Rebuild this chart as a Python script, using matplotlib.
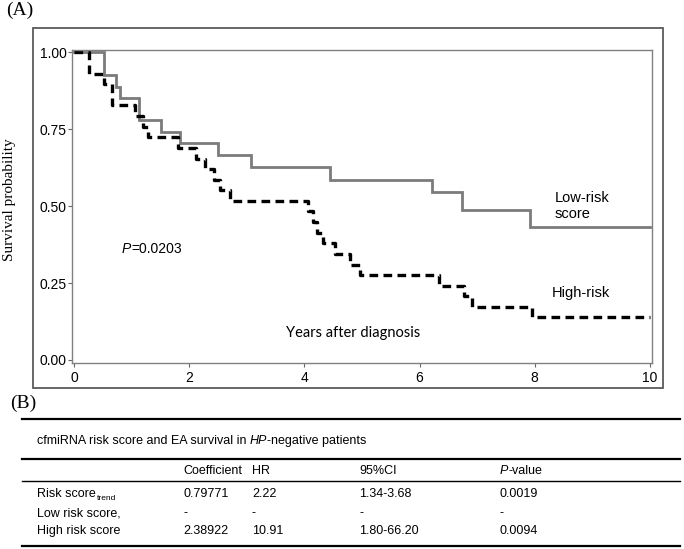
import matplotlib
matplotlib.use("Agg")
import matplotlib.pyplot as plt
from matplotlib.patches import Rectangle
from matplotlib.lines import Line2D

# ---------------- data ----------------
low_t = [0, 0.52, 0.72, 0.79, 1.13, 1.50, 1.84, 2.50, 3.07, 4.44, 6.21, 6.73, 7.92, 10.0]
low_s = [1.0, 0.926, 0.889, 0.852, 0.780, 0.742, 0.705, 0.667, 0.629, 0.586, 0.545, 0.488, 0.432, 0.432]

high_t = [0, 0.26, 0.52, 0.65, 1.05, 1.20, 1.28, 1.81, 2.12, 2.27, 2.42, 2.53, 2.71,
          4.07, 4.15, 4.22, 4.33, 4.53, 4.79, 4.97, 6.33, 6.77, 6.92, 7.95, 10.0]
high_s = [1.0, 0.931, 0.897, 0.828, 0.793, 0.759, 0.724, 0.690, 0.655, 0.621, 0.586, 0.552, 0.517,
          0.483, 0.448, 0.414, 0.379, 0.345, 0.310, 0.276, 0.241, 0.207, 0.172, 0.138, 0.138]

x_ticks = [0, 2, 4, 6, 8, 10]
y_ticks = [0.0, 0.25, 0.50, 0.75, 1.00]
y_tick_labels = ["0.00", "0.25", "0.50", "0.75", "1.00"]

p_text = "=0.0203"
table_title_pre = "cfmiRNA risk score and EA survival in "
table_title_it = "HP"
table_title_post = "-negative patients"
col_headers = ["Coefficient", "HR", "95%CI", "-value"]
row_labels = ["Risk score", "Low risk score,", "High risk score"]
coef = ["0.79771", "-", "2.38922"]
hr = ["2.22", "-", "10.91"]
ci = ["1.34-3.68", "-", "1.80-66.20"]
pval = ["0.0019", "-", "0.0094"]

SANS = ["Liberation Sans", "DejaVu Sans"]
NARROW = ["Liberation Sans Narrow", "Liberation Sans", "DejaVu Sans"]
SERIF = ["Liberation Serif", "DejaVu Serif"]
plt.rcParams["font.family"] = SANS

W, H = 684, 549
fig = plt.figure(figsize=(W / 100, H / 100), dpi=100)

# overlay in pixel coordinates for layout decorations
ov = fig.add_axes([0, 0, 1, 1])
ov.set_xlim(0, W)
ov.set_ylim(H, 0)
ov.axis("off")

# ---------------- panel A ----------------
ov.add_patch(Rectangle((33, 28), 630, 360, fill=False, edgecolor="#5a5a5a", lw=1.3))
ov.text(6, 10, "(A)", family=SERIF, fontsize=14, ha="left", va="center")
ov.text(10, 200, "Survival probability", family=SERIF, fontsize=11, rotation=90,
        ha="center", va="center")

ax = fig.add_axes([72 / W, 1 - 363 / H, 580 / W, 313 / H])
ax.step(low_t, low_s, where="post", color="#7b7b7b", lw=2.0, solid_joinstyle="miter")
ax.step(high_t, high_s, where="post", color="black", lw=2.4, linestyle=(0, (2.6, 1.6)))
ax.set_xlim(-0.04, 10.04)
ax.set_ylim(-0.01, 1.008)
ax.set_xticks(x_ticks)
ax.set_xticklabels([str(v) for v in x_ticks])
ax.set_yticks(y_ticks)
ax.set_yticklabels(y_tick_labels)
for sp in ax.spines.values():
    sp.set_color("#808080")
    sp.set_linewidth(1.0)
ax.tick_params(axis="both", length=3, width=0.8, color="#666666", labelsize=10)
ax.tick_params(axis="x", pad=3)
ax.tick_params(axis="y", pad=1)

t1 = ax.text(0.83, 0.36, "P", style="italic", fontsize=10, ha="left", va="center")
ax.annotate(p_text, xy=(1, 0), xycoords=t1, ha="left", va="bottom", fontsize=10)
ax.text(4.85, 0.088, "Years after diagnosis", family=["Lato", "DejaVu Sans"], fontsize=10.5,
        ha="center", va="center")
ax.text(8.35, 0.50, "Low-risk\nscore", fontsize=10.5, ha="left", va="center", linespacing=1.2)
ax.text(8.30, 0.218, "High-risk", fontsize=10.5, ha="left", va="center")

# ---------------- panel B ----------------
ov.text(10, 403, "(B)", family=SERIF, fontsize=14, ha="left", va="center")
for y, lw in [(419, 1.6), (459, 1.6), (481, 1.0), (546, 1.6)]:
    ov.add_line(Line2D([22, 680], [y, y], color="black", lw=lw))

FS = 9
a = ov.text(37, 441, table_title_pre, family=NARROW, fontsize=FS, ha="left", va="center")
b = ov.annotate(table_title_it, xy=(1, 0), xycoords=a, ha="left", va="bottom",
                family=NARROW, style="italic", fontsize=FS)
ov.annotate(table_title_post, xy=(1, 0), xycoords=b, ha="left", va="bottom",
            family=NARROW, fontsize=FS)

col_x = [183, 252, 359, 500]
hy = 471
for i, h in enumerate(col_headers[:3]):
    ov.text(col_x[i], hy, h, family=NARROW, fontsize=FS, ha="left", va="center")
pp = ov.text(col_x[3], hy, "P", family=NARROW, style="italic", fontsize=FS, ha="left", va="center")
ov.annotate(col_headers[3], xy=(1, 0), xycoords=pp, ha="left", va="bottom",
            family=NARROW, fontsize=FS)

row_y = [494, 513, 531]
for r in range(3):
    lab = ov.text(37, row_y[r], row_labels[r], family=NARROW, fontsize=FS, ha="left", va="center")
    if r == 0:
        ov.annotate("trend", xy=(1, 0), xycoords=lab, xytext=(0.5, -1.5),
                    textcoords="offset points", ha="left", va="bottom",
                    family=NARROW, fontsize=6)
    for cx, vals in zip(col_x, [coef, hr, ci, pval]):
        ov.text(cx, row_y[r], vals[r], family=NARROW, fontsize=FS, ha="left", va="center")

fig.savefig("out.png", dpi=100)
